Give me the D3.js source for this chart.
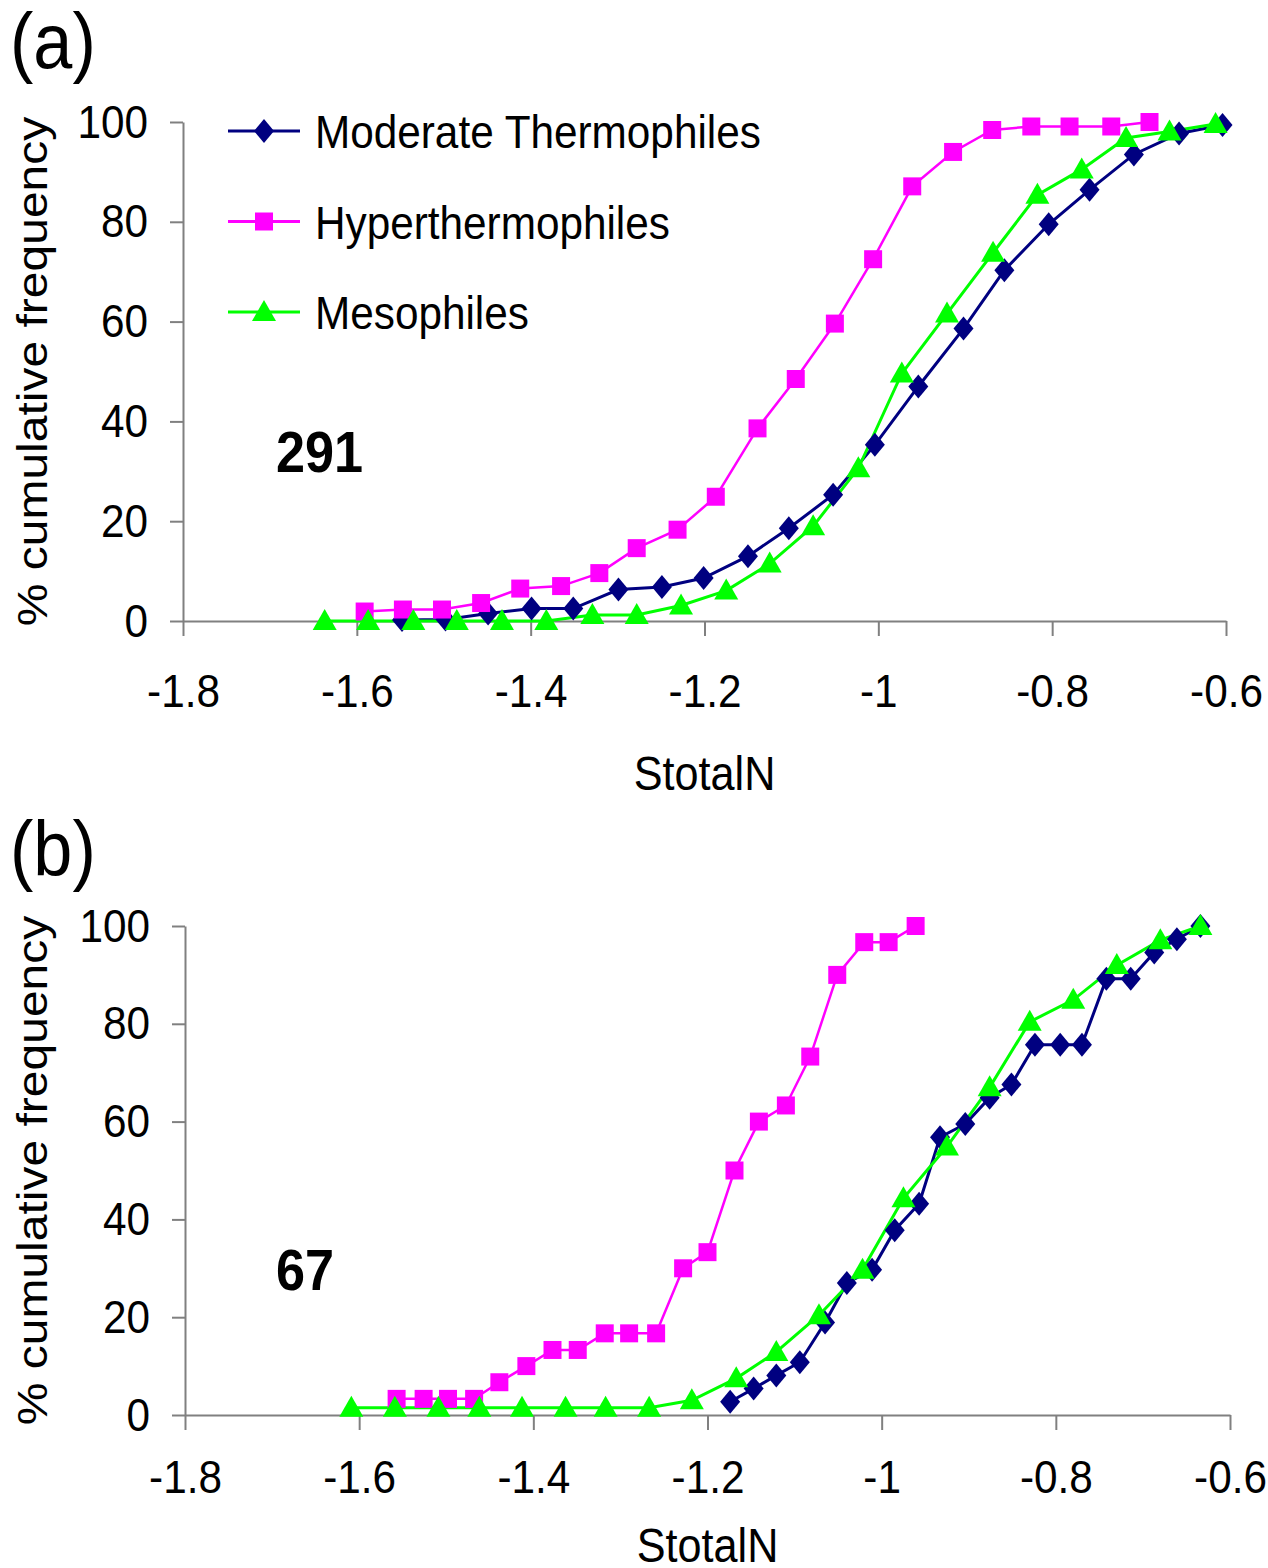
<!DOCTYPE html>
<html>
<head>
<meta charset="utf-8">
<script src="https://cdn.jsdelivr.net/npm/d3@7"></script>
<style>
  body { margin: 0; background: #fff; }
  svg { display: block; font-family: "Liberation Sans", Arial, sans-serif; }
</style>
</head>
<body>
<svg id="chart" width="1268" height="1568"></svg>
<script>
// tick labels
const xTicks = [-1.8, -1.6, -1.4, -1.2, -1, -0.8, -0.6];
const yTicks = [0, 20, 40, 60, 80, 100];
const seriesNames = ["Moderate Thermophiles", "Hyperthermophiles", "Mesophiles"];
const seriesColors = ["#000080", "#ff00ff", "#00ff00"];

// panel (a), 291 genomes
const aModX = [-1.548, -1.498, -1.449, -1.399, -1.351, -1.299, -1.249, -1.201, -1.150, -1.103, -1.052, -1.004, -0.954, -0.902, -0.855, -0.804, -0.757, -0.706, -0.654, -0.604];
const aModY = [0.2, 0.3, 1.5, 2.5, 2.5, 6.3, 6.8, 8.6, 13.0, 18.6, 25.3, 35.3, 47.0, 58.6, 70.3, 79.5, 86.4, 93.5, 97.7, 99.4];
const aHypX = [-1.591, -1.547, -1.502, -1.457, -1.412, -1.365, -1.321, -1.278, -1.231, -1.187, -1.139, -1.095, -1.050, -1.006, -0.961, -0.914, -0.869, -0.824, -0.780, -0.732, -0.688];
const aHypY = [1.9, 2.3, 2.3, 3.6, 6.5, 7.0, 9.6, 14.6, 18.3, 24.9, 38.6, 48.5, 59.6, 72.5, 87.1, 94.0, 98.4, 99.1, 99.1, 99.1, 100];
const aMesX = [-1.637, -1.587, -1.535, -1.485, -1.433, -1.382, -1.329, -1.278, -1.227, -1.175, -1.125, -1.075, -1.023, -0.973, -0.921, -0.868, -0.817, -0.766, -0.715, -0.665, -0.612];
const aMesY = [0, 0, 0, 0, 0, 0, 1.2, 1.2, 3.1, 6.1, 11.5, 19.0, 30.6, 49.6, 61.6, 73.8, 85.4, 90.5, 96.8, 98.1, 99.6];

// panel (b), 67 genomes
const bModX = [-1.174, -1.147, -1.121, -1.094, -1.065, -1.040, -1.011, -0.985, -0.957, -0.933, -0.904, -0.876, -0.851, -0.824, -0.795, -0.770, -0.742, -0.714, -0.687, -0.661, -0.634];
const bModY = [2.7, 5.4, 8.1, 10.8, 18.9, 27.0, 29.7, 37.8, 43.2, 56.8, 59.5, 64.9, 67.6, 75.7, 75.7, 75.7, 89.2, 89.2, 94.6, 97.3, 100];
const bHypX = [-1.557, -1.526, -1.498, -1.468, -1.439, -1.408, -1.378, -1.349, -1.318, -1.290, -1.259, -1.228, -1.200, -1.169, -1.141, -1.110, -1.082, -1.051, -1.020, -0.992, -0.961];
const bHypY = [3.3, 3.3, 3.3, 3.3, 6.7, 10.0, 13.3, 13.3, 16.7, 16.7, 16.7, 30.0, 33.3, 50.0, 60.0, 63.3, 73.3, 90.0, 96.7, 96.7, 100];
const bMesX = [-1.609, -1.559, -1.509, -1.462, -1.413, -1.363, -1.317, -1.267, -1.218, -1.167, -1.121, -1.072, -1.022, -0.975, -0.925, -0.876, -0.830, -0.780, -0.730, -0.680, -0.634];
const bMesY = [1.5, 1.5, 1.5, 1.5, 1.5, 1.5, 1.5, 1.5, 3.0, 7.5, 12.9, 20.4, 29.7, 44.3, 54.9, 67.0, 80.4, 84.9, 92.0, 97.1, 100];

const SX = 0.9; // the original figure is squeezed sideways
const svg = d3.select("#chart");

const markerPaths = [
  "M0,-12L10,0L0,12L-10,0Z",    // diamond
  "M-9,-9H9V9H-9Z",             // square
  "M0,-12L12,9L-12,9Z"          // triangle
];

function txt(g, x, y, s, size, anchor, weight) {
  return g.append("text")
    .attr("transform", `translate(${x},${y}) scale(${SX},1)`)
    .attr("text-anchor", anchor || "start")
    .style("font-size", size + "px")
    .style("font-weight", weight || "normal")
    .text(s);
}

function panel(cfg) {
  const x = d3.scaleLinear().domain([-1.8, -0.6]).range([cfg.left, cfg.right]);
  const y = d3.scaleLinear().domain([0, 100]).range([cfg.bottom, cfg.top]);
  const g = svg.append("g");

  const xa = g.append("g")
    .attr("transform", `translate(0,${cfg.bottom})`)
    .call(d3.axisBottom(x).tickValues(xTicks).tickFormat(d => String(d))
      .tickSize(15).tickSizeOuter(0).tickPadding(cfg.xPad));
  const ya = g.append("g")
    .attr("transform", `translate(${cfg.left},0)`)
    .call(d3.axisLeft(y).tickValues(yTicks).tickSize(13).tickSizeOuter(0).tickPadding(22));

  [xa, ya].forEach(a => {
    a.select(".domain").attr("stroke", "#808080").attr("stroke-width", 2);
    a.selectAll(".tick line").attr("stroke", "#808080").attr("stroke-width", 2);
    a.selectAll(".tick text")
      .attr("fill", "#000")
      .style("font-family", '"Liberation Sans", Arial, sans-serif')
      .style("font-size", "47px");
  });
  ya.selectAll(".tick text")
    .attr("x", -35 / SX)
    .attr("transform", `scale(${SX},1)`);
  xa.selectAll(".tick text").attr("transform", `scale(${SX},1)`);

  const line = d3.line().x(d => x(d[0])).y(d => y(d[1]));
  cfg.series.forEach((s, i) => {
    const pts = s[0].map((v, k) => [v, s[1][k]]);
    g.append("path")
      .attr("d", line(pts))
      .attr("fill", "none")
      .attr("stroke", seriesColors[i])
      .attr("stroke-width", i === 1 ? 2.5 : 3);
  });
  cfg.series.forEach((s, i) => {
    const pts = s[0].map((v, k) => [v, s[1][k]]);
    g.selectAll(null).data(pts).enter().append("path")
      .attr("d", markerPaths[i])
      .attr("transform", d => `translate(${x(d[0])},${y(d[1])})`)
      .attr("fill", seriesColors[i]);
  });

  // panel tag, count and axis titles
  txt(g, 10, cfg.tagY, cfg.tag, 78);
  txt(g, 276, cfg.countY, cfg.count, 58, "start", "bold");
  txt(g, (cfg.left + cfg.right) / 2, cfg.titleY, "StotalN", 48, "middle");
  g.append("text")
    .attr("transform", `translate(47,${(cfg.top + cfg.bottom) / 2}) scale(${SX},1) rotate(-90)`)
    .attr("text-anchor", "middle")
    .style("font-size", "48px")
    .text("% cumulative frequency");
  return g;
}

const ga = panel({
  left: 183, right: 1226, top: 122, bottom: 621, xPad: 38,
  series: [[aModX, aModY], [aHypX, aHypY], [aMesX, aMesY]],
  tag: "(a)", tagY: 68, count: "291", countY: 472, titleY: 790
});

panel({
  left: 185, right: 1230, top: 926, bottom: 1415, xPad: 30,
  series: [[bModX, bModY], [bHypX, bHypY], [bMesX, bMesY]],
  tag: "(b)", tagY: 876, count: "67", countY: 1290, titleY: 1562
});

// legend, panel (a) only
seriesNames.forEach((name, i) => {
  const ly = 131 + i * 90.5;
  const lg = ga.append("g");
  lg.append("line")
    .attr("x1", 228).attr("x2", 300).attr("y1", ly).attr("y2", ly)
    .attr("stroke", seriesColors[i]).attr("stroke-width", 3);
  lg.append("path")
    .attr("d", markerPaths[i])
    .attr("transform", `translate(264,${ly})`)
    .attr("fill", seriesColors[i]);
  txt(lg, 315, ly + 17, name, 47);
});
</script>
</body>
</html>
